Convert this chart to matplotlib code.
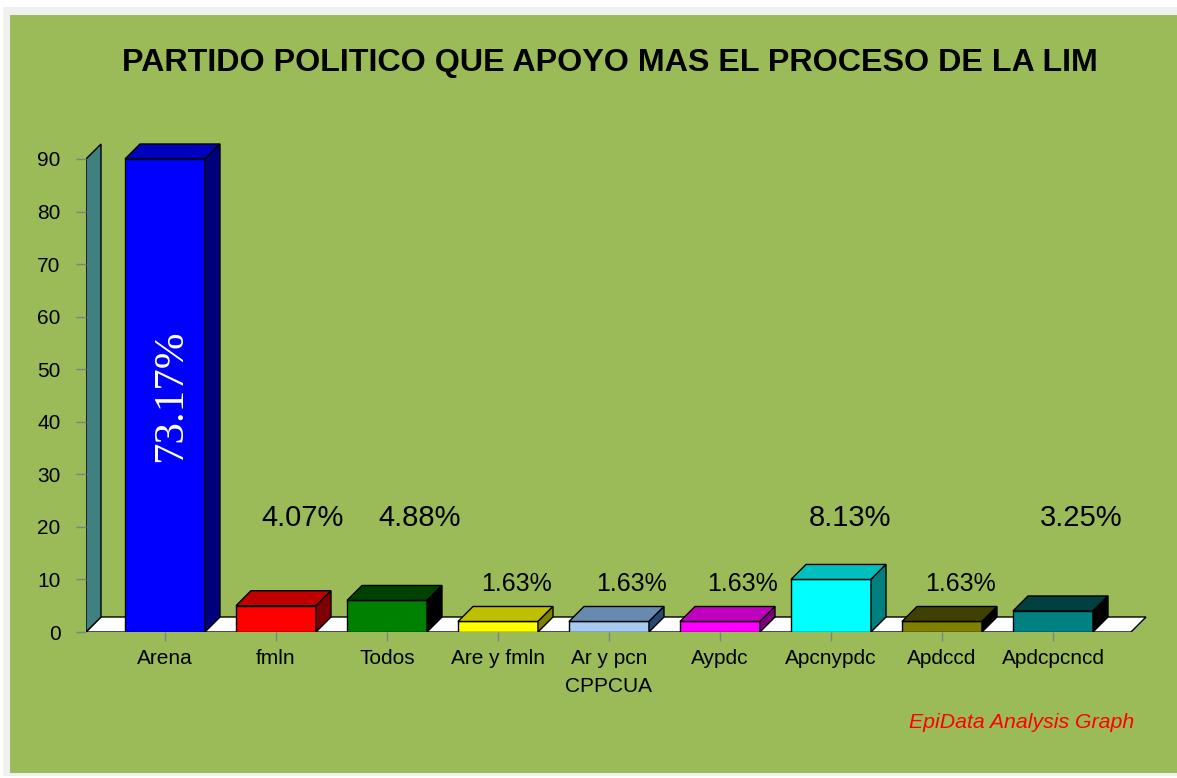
import matplotlib
matplotlib.use("Agg")
import matplotlib.pyplot as plt
from matplotlib.patches import Polygon, Rectangle

# ---- data ----
categories = ["Arena", "fmln", "Todos", "Are y fmln", "Ar y pcn\nCPPCUA",
              "Aypdc", "Apcnypdc", "Apdccd", "Apdcpcncd"]
counts = [90, 5, 6, 2, 2, 2, 10, 2, 4]
percent_labels = ["73.17%", "4.07%", "4.88%", "1.63%", "1.63%",
                  "1.63%", "8.13%", "1.63%", "3.25%"]
yticks = [0, 10, 20, 30, 40, 50, 60, 70, 80, 90]
title = "PARTIDO POLITICO QUE APOYO MAS EL PROCESO DE LA LIM"

# ---- styles ----
front_colors = ["#0000FF", "#FF0000", "#008000", "#FFFF00", "#A6CAF0",
                "#FF00FF", "#00FFFF", "#808000", "#008080"]
label_level = [None, 21.7, 21.7, 9.1, 9.1, 9.1, 21.7, 9.1, 21.7]
label_xoff = [0.05, 0.24, 0.29, 0.17, 0.20, 0.20, 0.17, 0.17, 0.25]

def darken(hexcol, amount):
    r = int(hexcol[1:3], 16); g = int(hexcol[3:5], 16); b = int(hexcol[5:7], 16)
    return "#%02X%02X%02X" % (max(r - amount, 0), max(g - amount, 0), max(b - amount, 0))

W, H = 1177, 778
fig = plt.figure(figsize=(W / 100, H / 100), dpi=100)
fig.patch.set_facecolor("white")

# frame / background
fig.add_artist(Rectangle((3 / W, 2 / H), 1174 / W, 769 / H, transform=fig.transFigure,
                         facecolor="#F0F0F0", edgecolor="none", zorder=0))
fig.add_artist(Rectangle((10 / W, 5 / H), 1167 / W, 758 / H, transform=fig.transFigure,
                         facecolor="#9BBB59", edgecolor="none", zorder=0))

# axes geometry (pixels)
px_per_unit_y = (632 - 159) / 90.0
px_per_cat = 111.0
ax_left_px, ax_right_px = 86, 1147
ax_bottom_px = 632
ymax = 95
ax = fig.add_axes([ax_left_px / W, (H - ax_bottom_px) / H,
                   (ax_right_px - ax_left_px) / W, ymax * px_per_unit_y / H])
ax.patch.set_alpha(0)
for s in ax.spines.values():
    s.set_visible(False)

xl = -79 / px_per_cat
xr_front = len(categories) - 1 + 78 / px_per_cat
ax.set_xlim(xl, xl + (ax_right_px - ax_left_px) / px_per_cat)
ax.set_ylim(0, ymax)

dx = 15 / px_per_cat
dy = 15 / px_per_unit_y
bw = 80 / px_per_cat
top_val = yticks[-1]

# floor
ax.add_patch(Polygon([(xl, 0), (xr_front, 0), (xr_front + dx, dy), (xl + dx, dy)],
                     closed=True, facecolor="white", edgecolor="black", lw=1, zorder=1))
# side wall
ax.add_patch(Polygon([(xl, 0), (xl, top_val), (xl + dx, top_val + dy), (xl + dx, dy)],
                     closed=True, facecolor="#408080", edgecolor="black", lw=1, zorder=1))

# bars
for i, (v, c) in enumerate(zip(counts, front_colors)):
    x0, x1 = i - bw / 2, i + bw / 2
    ax.add_patch(Polygon([(x0, 0), (x1, 0), (x1, v), (x0, v)], closed=True,
                         facecolor=c, edgecolor="black", lw=1, zorder=3))
    ax.add_patch(Polygon([(x0, v), (x1, v), (x1 + dx, v + dy), (x0 + dx, v + dy)], closed=True,
                         facecolor=darken(c, 64), edgecolor="black", lw=1, zorder=3))
    ax.add_patch(Polygon([(x1, 0), (x1 + dx, dy), (x1 + dx, v + dy), (x1, v)], closed=True,
                         facecolor=darken(c, 128), edgecolor="black", lw=1, zorder=3))
    if v == max(counts):
        ax.text(i + label_xoff[i], v / 2, percent_labels[i], rotation=90, ha="center",
                va="center", color="white", fontsize=31, family="Liberation Serif", zorder=5)
    elif v >= 4:
        ax.text(i + label_xoff[i], label_level[i], percent_labels[i], ha="center", va="center",
                color="black", fontsize=21, family="Liberation Sans", zorder=5)
    else:
        ax.text(i + label_xoff[i], label_level[i], percent_labels[i], ha="center", va="center",
                color="black", fontsize=18, family="Liberation Sans", zorder=5)

# ticks
ax.set_yticks(yticks)
ax.set_yticklabels([str(t) for t in yticks], family="Liberation Sans", fontsize=15)
ax.set_xticks(range(len(categories)))
ax.set_xticklabels(categories, family="Liberation Sans", fontsize=15, linespacing=1.6)
ax.tick_params(axis="y", length=7.2, width=1, color="#808080", pad=11, labelcolor="black")
ax.tick_params(axis="x", length=6.5, width=1, color="#808080", pad=5.5, labelcolor="black")

# title & watermark
fig.text(610 / W, 1 - 63 / H, title, ha="center", va="center", fontsize=23.2,
         fontweight="bold", family="Liberation Sans")
fig.text(1134 / W, 1 - 722 / H, "EpiData Analysis Graph", ha="right", va="center",
         fontsize=15.3, style="italic", color="#FF0000", family="Liberation Sans")

fig.savefig("out.png", dpi=100)
